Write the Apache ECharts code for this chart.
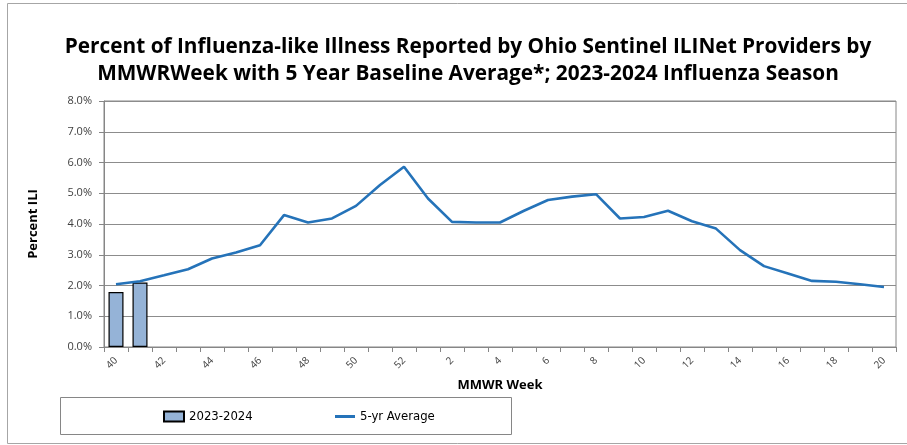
<!DOCTYPE html>
<html>
<head>
<meta charset="utf-8">
<script src="https://cdn.jsdelivr.net/npm/echarts@6/dist/echarts.min.js"></script>
<style>
html,body{margin:0;padding:0;background:#fff;}
#chart{width:907px;height:445px;}
</style>
</head>
<body>
<div id="chart"></div>
<script>
const weeks = ['40','41','42','43','44','45','46','47','48','49','50','51','52','1','2','3','4','5','6','7','8','9','10','11','12','13','14','15','16','17','18','19','20'];
const season2023 = [1.79, 2.10];
const fiveYrAvg = [2.04,2.14,2.33,2.53,2.88,3.07,3.31,4.29,4.05,4.18,4.59,5.27,5.86,4.83,4.07,4.05,4.05,4.43,4.78,4.89,4.97,4.18,4.23,4.43,4.09,3.85,3.15,2.63,2.39,2.15,2.12,2.04,1.95];
const yTicks = [0,1,2,3,4,5,6,7,8];

const barData = weeks.map((w,i) => i < season2023.length ? season2023[i] : null);

const chart = echarts.init(document.getElementById('chart'), null, {renderer:'canvas'});
const labelFont = '"Open Sans", "Liberation Sans", sans-serif';
const legendFont = {fontFamily:'"Liberation Sans Narrow", "DejaVu Sans Condensed", "Liberation Sans", sans-serif', fontSize:13, color:'#000'};
chart.setOption({
  animation:false,
  backgroundColor:'#fff',
  title:{
    text:'Percent of Influenza-like Illness Reported by Ohio Sentinel ILINet Providers by\nMMWRWeek with 5 Year Baseline Average*; 2023-2024 Influenza Season',
    left:463, textAlign:'center', top:29,
    textStyle:{fontFamily:labelFont, fontWeight:'bold', fontSize:20.8, lineHeight:27, color:'#000'}
  },
  graphic:[
    {type:'rect', shape:{x:7.5,y:3.5,width:920,height:440}, style:{fill:'none', stroke:'#a6a6a6', lineWidth:1}, silent:true, z:-1},
    {type:'rect', shape:{x:60.5,y:397.5,width:451,height:37}, style:{fill:'#fff', stroke:'#868686', lineWidth:1}, silent:true, z:-1}
  ],
  legend:[
    {left:158, top:405, itemWidth:20, itemHeight:10, itemGap:4, icon:'rect',
     textStyle:legendFont, data:['2023-2024']},
    {left:330, top:405, itemWidth:20, itemHeight:3, itemGap:4, icon:'rect',
     textStyle:legendFont, data:['5-yr Average']}
  ],
  grid:{left:104, right:11, top:101, bottom:98, containLabel:false, show:true, borderColor:'#868686', borderWidth:1},
  xAxis:{
    type:'category', data:weeks, boundaryGap:true,
    name:'MMWR Week', nameLocation:'middle', nameGap:32,
    nameTextStyle:{fontFamily:labelFont, fontWeight:'bold', fontSize:13, color:'#000'},
    axisLine:{lineStyle:{color:'#868686', width:1}},
    axisTick:{show:true, interval:0, length:5, lineStyle:{color:'#868686'}},
    axisLabel:{interval:1, rotate:45, fontSize:10, color:'#404040', fontFamily:labelFont, margin:12},
    splitLine:{show:false}
  },
  yAxis:{
    type:'value', min:0, max:8, interval:1,
    name:'Percent ILI', nameLocation:'middle', nameGap:64,
    nameTextStyle:{fontFamily:labelFont, fontWeight:'bold', fontSize:13, color:'#000'},
    axisLine:{show:true, lineStyle:{color:'#868686', width:1}},
    axisTick:{show:true, length:5, lineStyle:{color:'#868686'}},
    axisLabel:{formatter:v => v.toFixed(1)+'%', fontSize:11, color:'#404040', fontFamily:labelFont, margin:12},
    splitLine:{show:true, lineStyle:{color:'#8c8c8c', width:1}}
  },
  series:[
    {name:'2023-2024', type:'bar', data:barData, barWidth:15,
     itemStyle:{color:'#95b3d7', borderColor:'#000', borderWidth:1.2}},
    {name:'5-yr Average', type:'line', data:fiveYrAvg, symbol:'none', showSymbol:false,
     lineStyle:{color:'#2573b9', width:2.6}, itemStyle:{color:'#2573b9'}}
  ]
});
</script>
</body>
</html>
